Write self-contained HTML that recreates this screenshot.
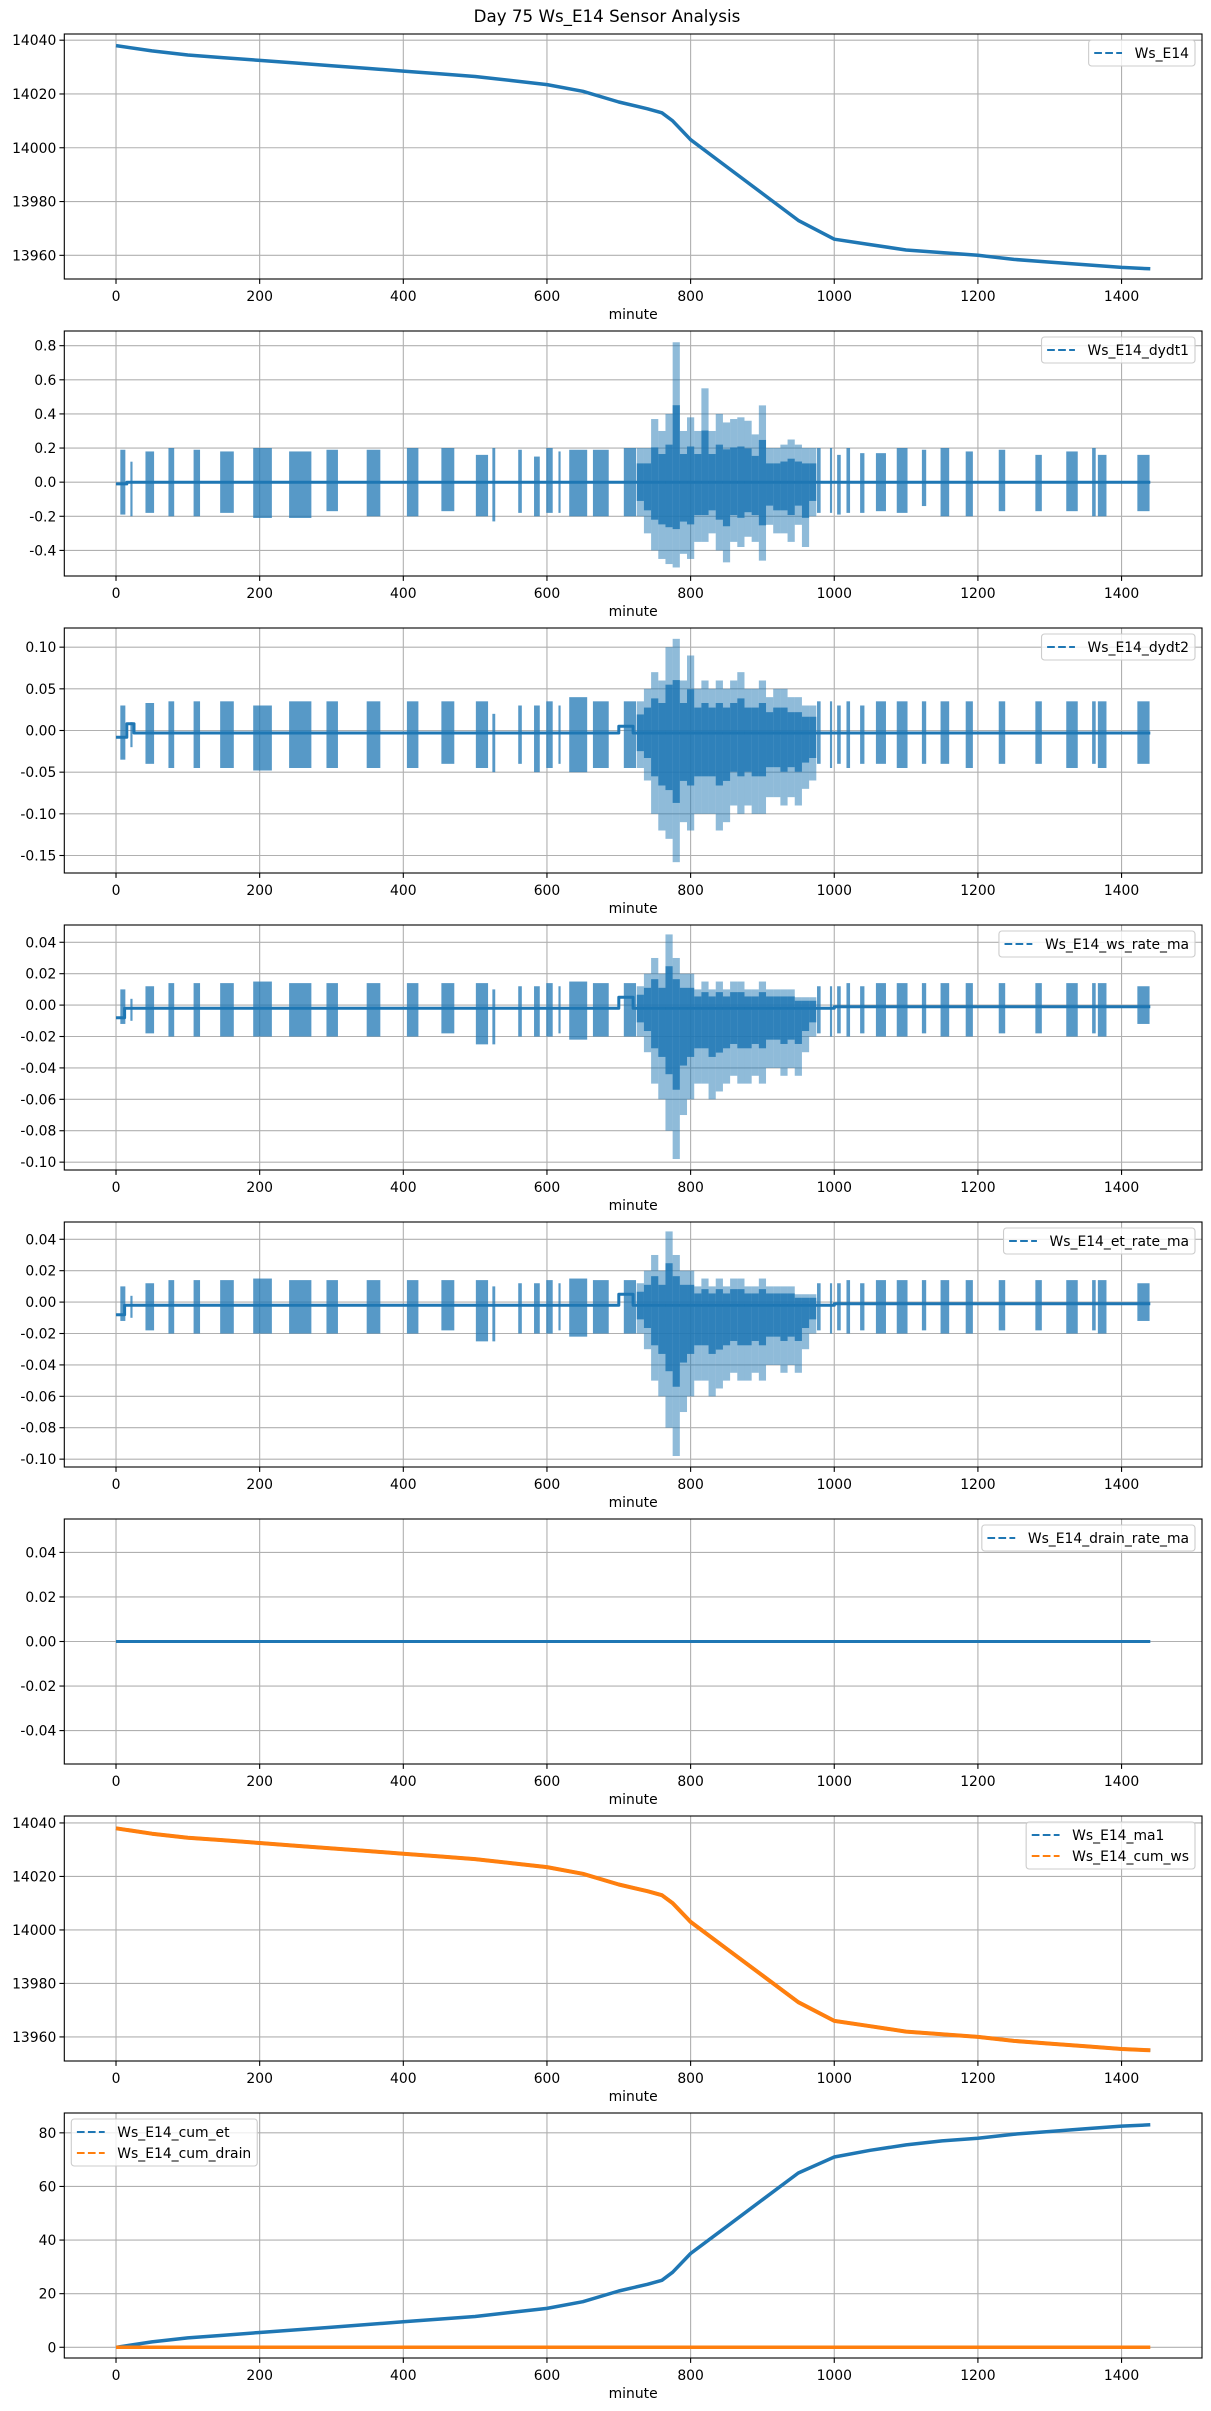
<!DOCTYPE html>
<html>
<head>
<meta charset="utf-8">
<style>
html,body{margin:0;padding:0;background:#fff;}
svg{display:block;font-family:"DejaVu Sans","Liberation Sans",sans-serif;}
</style>
</head>
<body>
<svg id="fig" width="1211" height="2411" viewBox="0 0 1211 2411" xmlns="http://www.w3.org/2000/svg">
<rect x="0" y="0" width="1211" height="2411" fill="#fff"/>
<text x="607" y="22" text-anchor="middle" font-size="16.7" fill="#000">Day 75 Ws_E14 Sensor Analysis</text>
</svg>
<script>
// ---------- data ----------
const xTicks = [0,200,400,600,800,1000,1200,1400];
const wsMinutes = [0,50,100,150,200,250,300,350,400,450,500,550,600,650,700,740,760,775,800,850,900,950,1000,1050,1100,1150,1200,1250,1300,1350,1400,1440];
const wsValues  = [14038,14036,14034.5,14033.5,14032.5,14031.5,14030.5,14029.5,14028.5,14027.5,14026.5,14025,14023.5,14021,14017,14014.5,14013,14010,14003,13993,13983,13973,13966,13964,13962,13961,13960,13958.5,13957.5,13956.5,13955.5,13955];
const cumWsValues = [14038,14036,14034.5,14033.5,14032.5,14031.5,14030.5,14029.5,14028.5,14027.5,14026.5,14025,14023.5,14021,14017,14014.5,14013,14010,14003,13993,13983,13973,13966,13964,13962,13961,13960,13958.5,13957.5,13956.5,13955.5,13955];
const cumEtValues = [0,2,3.5,4.5,5.5,6.5,7.5,8.5,9.5,10.5,11.5,13,14.5,17,21,23.5,25,28,35,45,55,65,71,73.5,75.5,77,78,79.5,80.5,81.5,82.5,83];
const cumDrainValues = [0,0,0,0,0,0,0,0,0,0,0,0,0,0,0,0,0,0,0,0,0,0,0,0,0,0,0,0,0,0,0,0];

const burstStart = [6,20,41,73,108,145,191,241,293,349,405,453,501,524,560,582,599,616,631,664,707,976,994,1004,1017,1036,1058,1087,1122,1148,1183,1229,1280,1323,1359,1367,1422];
const burstEnd   = [13,23,53,81,117,164,217,272,309,368,421,471,518,528,565,590,608,619,656,686,724,981,997,1009,1022,1042,1072,1102,1128,1160,1193,1238,1289,1339,1364,1379,1439];

const dydt1BurstMax = [0.19,0.12,0.18,0.2,0.19,0.18,0.2,0.18,0.19,0.19,0.2,0.2,0.16,0.2,0.19,0.15,0.2,0.18,0.19,0.19,0.2,0.2,0.2,0.16,0.2,0.17,0.17,0.2,0.19,0.2,0.18,0.19,0.16,0.18,0.2,0.16,0.16];
const dydt1BurstMin = [-0.19,-0.2,-0.18,-0.2,-0.2,-0.18,-0.21,-0.21,-0.17,-0.2,-0.2,-0.17,-0.2,-0.23,-0.18,-0.2,-0.18,-0.18,-0.2,-0.2,-0.2,-0.18,-0.18,-0.19,-0.18,-0.18,-0.17,-0.18,-0.14,-0.2,-0.2,-0.17,-0.17,-0.17,-0.2,-0.2,-0.17];
const dydt2BurstMax = [0.03,0.01,0.033,0.035,0.035,0.035,0.03,0.035,0.035,0.035,0.035,0.035,0.035,0.02,0.03,0.03,0.035,0.03,0.04,0.035,0.035,0.035,0.035,0.03,0.035,0.03,0.035,0.035,0.035,0.035,0.035,0.035,0.035,0.035,0.035,0.035,0.035];
const dydt2BurstMin = [-0.035,-0.02,-0.04,-0.045,-0.045,-0.045,-0.048,-0.045,-0.045,-0.045,-0.045,-0.04,-0.045,-0.05,-0.04,-0.05,-0.045,-0.04,-0.05,-0.045,-0.045,-0.04,-0.045,-0.04,-0.045,-0.04,-0.04,-0.045,-0.04,-0.04,-0.045,-0.04,-0.04,-0.045,-0.04,-0.045,-0.04];
const wsRateBurstMax = [0.01,0.004,0.012,0.014,0.014,0.014,0.015,0.014,0.014,0.014,0.014,0.014,0.014,0.01,0.012,0.012,0.014,0.012,0.015,0.014,0.014,0.012,0.012,0.012,0.014,0.012,0.014,0.014,0.014,0.014,0.014,0.014,0.014,0.014,0.014,0.014,0.012];
const wsRateBurstMin = [-0.012,-0.01,-0.018,-0.02,-0.02,-0.02,-0.02,-0.02,-0.02,-0.02,-0.02,-0.018,-0.025,-0.025,-0.02,-0.02,-0.02,-0.018,-0.022,-0.02,-0.02,-0.018,-0.02,-0.018,-0.02,-0.018,-0.02,-0.02,-0.018,-0.02,-0.02,-0.018,-0.018,-0.02,-0.018,-0.02,-0.012];
const etRateBurstMax = [0.01,0.004,0.012,0.014,0.014,0.014,0.015,0.014,0.014,0.014,0.014,0.014,0.014,0.01,0.012,0.012,0.014,0.012,0.015,0.014,0.014,0.012,0.012,0.012,0.014,0.012,0.014,0.014,0.014,0.014,0.014,0.014,0.014,0.014,0.014,0.014,0.012];
const etRateBurstMin = [-0.012,-0.01,-0.018,-0.02,-0.02,-0.02,-0.02,-0.02,-0.02,-0.02,-0.02,-0.018,-0.025,-0.025,-0.02,-0.02,-0.02,-0.018,-0.022,-0.02,-0.02,-0.018,-0.02,-0.018,-0.02,-0.018,-0.02,-0.02,-0.018,-0.02,-0.02,-0.018,-0.018,-0.02,-0.018,-0.02,-0.012];

const denseMinutes = [730,740,750,760,770,780,790,800,810,820,830,840,850,860,870,880,890,900,910,920,930,940,950,960,970];
const dydt1DenseMax = [0.2,0.2,0.37,0.3,0.4,0.82,0.3,0.38,0.3,0.55,0.3,0.4,0.35,0.37,0.38,0.36,0.28,0.45,0.2,0.2,0.22,0.25,0.22,0.2,0.2];
const dydt1DenseMin = [-0.2,-0.3,-0.4,-0.45,-0.48,-0.5,-0.42,-0.45,-0.35,-0.35,-0.3,-0.4,-0.47,-0.35,-0.38,-0.32,-0.35,-0.46,-0.25,-0.3,-0.3,-0.35,-0.25,-0.38,-0.2];
const dydt2DenseMax = [0.035,0.05,0.07,0.06,0.1,0.11,0.06,0.09,0.05,0.06,0.05,0.06,0.05,0.06,0.07,0.05,0.05,0.06,0.04,0.05,0.05,0.04,0.04,0.03,0.03];
const dydt2DenseMin = [-0.045,-0.06,-0.1,-0.12,-0.13,-0.158,-0.11,-0.12,-0.1,-0.1,-0.1,-0.12,-0.11,-0.09,-0.1,-0.09,-0.1,-0.1,-0.08,-0.08,-0.09,-0.08,-0.09,-0.07,-0.06];
const wsRateDenseMax = [0.012,0.02,0.03,0.02,0.045,0.03,0.02,0.02,0.01,0.015,0.01,0.015,0.01,0.015,0.015,0.01,0.01,0.015,0.01,0.01,0.01,0.01,0.005,0.005,0.005];
const wsRateDenseMin = [-0.02,-0.03,-0.05,-0.06,-0.08,-0.098,-0.07,-0.06,-0.05,-0.05,-0.06,-0.055,-0.05,-0.045,-0.05,-0.05,-0.045,-0.05,-0.04,-0.04,-0.045,-0.04,-0.045,-0.03,-0.02];
const etRateDenseMax = [0.012,0.02,0.03,0.02,0.045,0.03,0.02,0.02,0.01,0.015,0.01,0.015,0.01,0.015,0.015,0.01,0.01,0.015,0.01,0.01,0.01,0.01,0.005,0.005,0.005];
const etRateDenseMin = [-0.02,-0.03,-0.05,-0.06,-0.08,-0.098,-0.07,-0.06,-0.05,-0.05,-0.06,-0.055,-0.05,-0.045,-0.05,-0.05,-0.045,-0.05,-0.04,-0.04,-0.045,-0.04,-0.045,-0.03,-0.02];

const dydt1BaseX = [0,15,15,1440];
const dydt1BaseY = [-0.01,-0.01,0,0];
const dydt2BaseX = [0,15,15,25,25,700,700,720,720,1440];
const dydt2BaseY = [-0.008,-0.008,0.008,0.008,-0.003,-0.003,0.005,0.005,-0.003,-0.003];
const rateBaseX = [0,12,12,700,700,720,720,1000,1000,1440];
const rateBaseY = [-0.008,-0.008,-0.002,-0.002,0.005,0.005,-0.002,-0.002,-0.001,-0.001];
const drainX = [0,1440];
const drainY = [0,0];

const ticks1 = [13960,13980,14000,14020,14040];
const ticks2 = [-0.4,-0.2,0.0,0.2,0.4,0.6,0.8];
const ticks3 = [-0.15,-0.10,-0.05,0.00,0.05,0.10];
const ticks4 = [-0.10,-0.08,-0.06,-0.04,-0.02,0.00,0.02,0.04];
const ticks6 = [-0.04,-0.02,0.00,0.02,0.04];
const ticks8 = [0,20,40,60,80];

// ---------- layout ----------
const NS = 'http://www.w3.org/2000/svg';
const svg = document.getElementById('fig');
const L = 64.3, R = 1202, XMIN = -72, XMAX = 1512, H = 245, PITCH = 297, TOP0 = 34;
const BLUE = '#1f77b4', ORANGE = '#ff7f0e';
function mk(tag, attrs, parent){ const e=document.createElementNS(NS,tag); for(const k in attrs) e.setAttribute(k,attrs[k]); (parent||svg).appendChild(e); return e; }
function xs(v){ return L + (v - XMIN) / (XMAX - XMIN) * (R - L); }

function makePanel(i, ymin, ymax, yticks, dec, name){
  const top = TOP0 + i*PITCH, bot = top + H;
  const g = mk('g', {});
  
  
  const ys = v => bot - (v - ymin) / (ymax - ymin) * H;
  xTicks.forEach(t => { const l = mk('line',{x1:xs(t),x2:xs(t),y1:top,y2:bot,stroke:'#b0b0b0','stroke-width':1.1},g);
      });
  yticks.forEach(t => { const l = mk('line',{x1:L,x2:R,y1:ys(t),y2:ys(t),stroke:'#b0b0b0','stroke-width':1.1},g);
      });
  const clipId = 'clip'+i;
  const cp = mk('clipPath',{id:clipId},g); mk('rect',{x:L,y:top,width:R-L,height:H},cp);
  const plot = mk('g',{'clip-path':'url(#'+clipId+')'},g);
  xTicks.forEach(t => {
    mk('line',{x1:xs(t),x2:xs(t),y1:bot,y2:bot+4.9,stroke:'#000','stroke-width':1.1},g);
    const tx = mk('text',{x:xs(t),y:bot+22,'text-anchor':'middle','font-size':13.9,fill:'#000'},g);
    tx.textContent = t;
     
  });
  yticks.forEach(t => {
    mk('line',{x1:L-4.9,x2:L,y1:ys(t),y2:ys(t),stroke:'#000','stroke-width':1.1},g);
    const tx = mk('text',{x:L-8,y:ys(t)+5,'text-anchor':'end','font-size':13.9,fill:'#000'},g);
    tx.textContent = t.toFixed(dec);
     
  });
  const xl = mk('text',{x:(L+R)/2,y:bot+40,'text-anchor':'middle','font-size':13.9,fill:'#000'},g);
  xl.textContent = 'minute';
   
  const frame = mk('rect',{x:L,y:top,width:R-L,height:H,fill:'none',stroke:'#000','stroke-width':1.1},g);
   
  return {g, plot, ys, top, bot};
}

function drawLine(p, xsArr, ysArr, color, w, name){
  const pts = xsArr.map((x,k)=> xs(x).toFixed(1)+','+p.ys(ysArr[k]).toFixed(1)).join(' ');
  const pl = mk('polyline',{points:pts,fill:'none',stroke:color,'stroke-width':w,'stroke-linejoin':'round'},p.plot);
  
  
}

function drawBursts(p, bmax, bmin, dmax, dmin, name){
  burstStart.forEach((s,k)=>{
    const x0 = xs(s), x1 = xs(burstEnd[k]);
    const yT = p.ys(bmax[k]), yB = p.ys(bmin[k]);
    const r = mk('rect',{x:x0,y:yT,width:Math.max(2,x1-x0),height:yB-yT,fill:BLUE,'fill-opacity':0.75},p.plot);
    
    
  });
  denseMinutes.forEach((m,k)=>{
    const x0 = xs(m-5), x1 = xs(m+5);
    const yT = p.ys(dmax[k]), yB = p.ys(dmin[k]);
    const r = mk('rect',{x:x0,y:yT,width:x1-x0,height:yB-yT,fill:BLUE,'fill-opacity':0.5},p.plot);
    
    
    const c0 = p.ys(0), ci = 0.55;
    const r2 = mk('rect',{x:x0,y:c0-(c0-yT)*ci,width:x1-x0,height:(yB-yT)*ci,fill:BLUE,'fill-opacity':0.85},p.plot);
    
    
  });
}

function legend(p, entries, corner){
  const lg = mk('g',{},p.g);
  
  
  const box = mk('rect',{rx:3,fill:'#fff','fill-opacity':0.8,stroke:'#cccccc','stroke-width':1.1},lg);
  const texts = [];
  entries.forEach((e,k)=>{
    const t = mk('text',{'font-size':13.9,fill:'#000'},lg);
    t.textContent = e.label;
    
    
    texts.push(t);
  });
  const tw = Math.max(...texts.map(t=>t.getComputedTextLength()));
  const bw = 46 + tw + 6, bh = 26 + (entries.length-1)*21;
  const bx = corner==='left' ? L + 7 : R - 7 - bw;
  const by = p.top + 6;
  box.setAttribute('x',bx); box.setAttribute('y',by); box.setAttribute('width',bw); box.setAttribute('height',bh);
  entries.forEach((e,k)=>{
    const cy = by + 13 + k*21;
    const h = mk('line',{x1:bx+5.6,x2:bx+33.4,y1:cy,y2:cy,stroke:e.color,'stroke-width':2.1,'stroke-dasharray':'7.7,3.3'},lg);
    
    
    texts[k].setAttribute('x',bx+46); texts[k].setAttribute('y',cy+5);
  });
}

const p1 = makePanel(0, 13951.2, 14042.3, ticks1, 0, 'ws-e14');
drawLine(p1, wsMinutes, wsValues, BLUE, 3.5, 'ws-e14-line');
legend(p1, [{label:'Ws_E14',color:BLUE}], 'right');

const p2 = makePanel(1, -0.55, 0.886, ticks2, 1, 'dydt1');
drawLine(p2, dydt1BaseX, dydt1BaseY, BLUE, 3, 'dydt1-baseline');
drawBursts(p2, dydt1BurstMax, dydt1BurstMin, dydt1DenseMax, dydt1DenseMin, 'dydt1');
legend(p2, [{label:'Ws_E14_dydt1',color:BLUE}], 'right');

const p3 = makePanel(2, -0.171, 0.123, ticks3, 2, 'dydt2');
drawLine(p3, dydt2BaseX, dydt2BaseY, BLUE, 3, 'dydt2-baseline');
drawBursts(p3, dydt2BurstMax, dydt2BurstMin, dydt2DenseMax, dydt2DenseMin, 'dydt2');
legend(p3, [{label:'Ws_E14_dydt2',color:BLUE}], 'right');

const p4 = makePanel(3, -0.105, 0.051, ticks4, 2, 'ws-rate-ma');
drawLine(p4, rateBaseX, rateBaseY, BLUE, 3, 'ws-rate-baseline');
drawBursts(p4, wsRateBurstMax, wsRateBurstMin, wsRateDenseMax, wsRateDenseMin, 'ws-rate');
legend(p4, [{label:'Ws_E14_ws_rate_ma',color:BLUE}], 'right');

const p5 = makePanel(4, -0.105, 0.051, ticks4, 2, 'et-rate-ma');
drawLine(p5, rateBaseX, rateBaseY, BLUE, 3, 'et-rate-baseline');
drawBursts(p5, etRateBurstMax, etRateBurstMin, etRateDenseMax, etRateDenseMin, 'et-rate');
legend(p5, [{label:'Ws_E14_et_rate_ma',color:BLUE}], 'right');

const p6 = makePanel(5, -0.055, 0.055, ticks6, 2, 'drain-rate-ma');
drawLine(p6, drainX, drainY, BLUE, 3, 'drain-rate-line');
legend(p6, [{label:'Ws_E14_drain_rate_ma',color:BLUE}], 'right');

const p7 = makePanel(6, 13951, 14042.6, ticks1, 0, 'ma1-cum-ws');
drawLine(p7, wsMinutes, wsValues, BLUE, 3.5, 'ma1-line');
drawLine(p7, wsMinutes, cumWsValues, ORANGE, 4, 'cum-ws-line');
legend(p7, [{label:'Ws_E14_ma1',color:BLUE},{label:'Ws_E14_cum_ws',color:ORANGE}], 'right');

const p8 = makePanel(7, -4.0, 87.4, ticks8, 0, 'cum-et-drain');
drawLine(p8, wsMinutes, cumEtValues, BLUE, 3.5, 'cum-et-line');
drawLine(p8, wsMinutes, cumDrainValues, ORANGE, 3.5, 'cum-drain-line');
legend(p8, [{label:'Ws_E14_cum_et',color:BLUE},{label:'Ws_E14_cum_drain',color:ORANGE}], 'left');
</script>
</body>
</html>
